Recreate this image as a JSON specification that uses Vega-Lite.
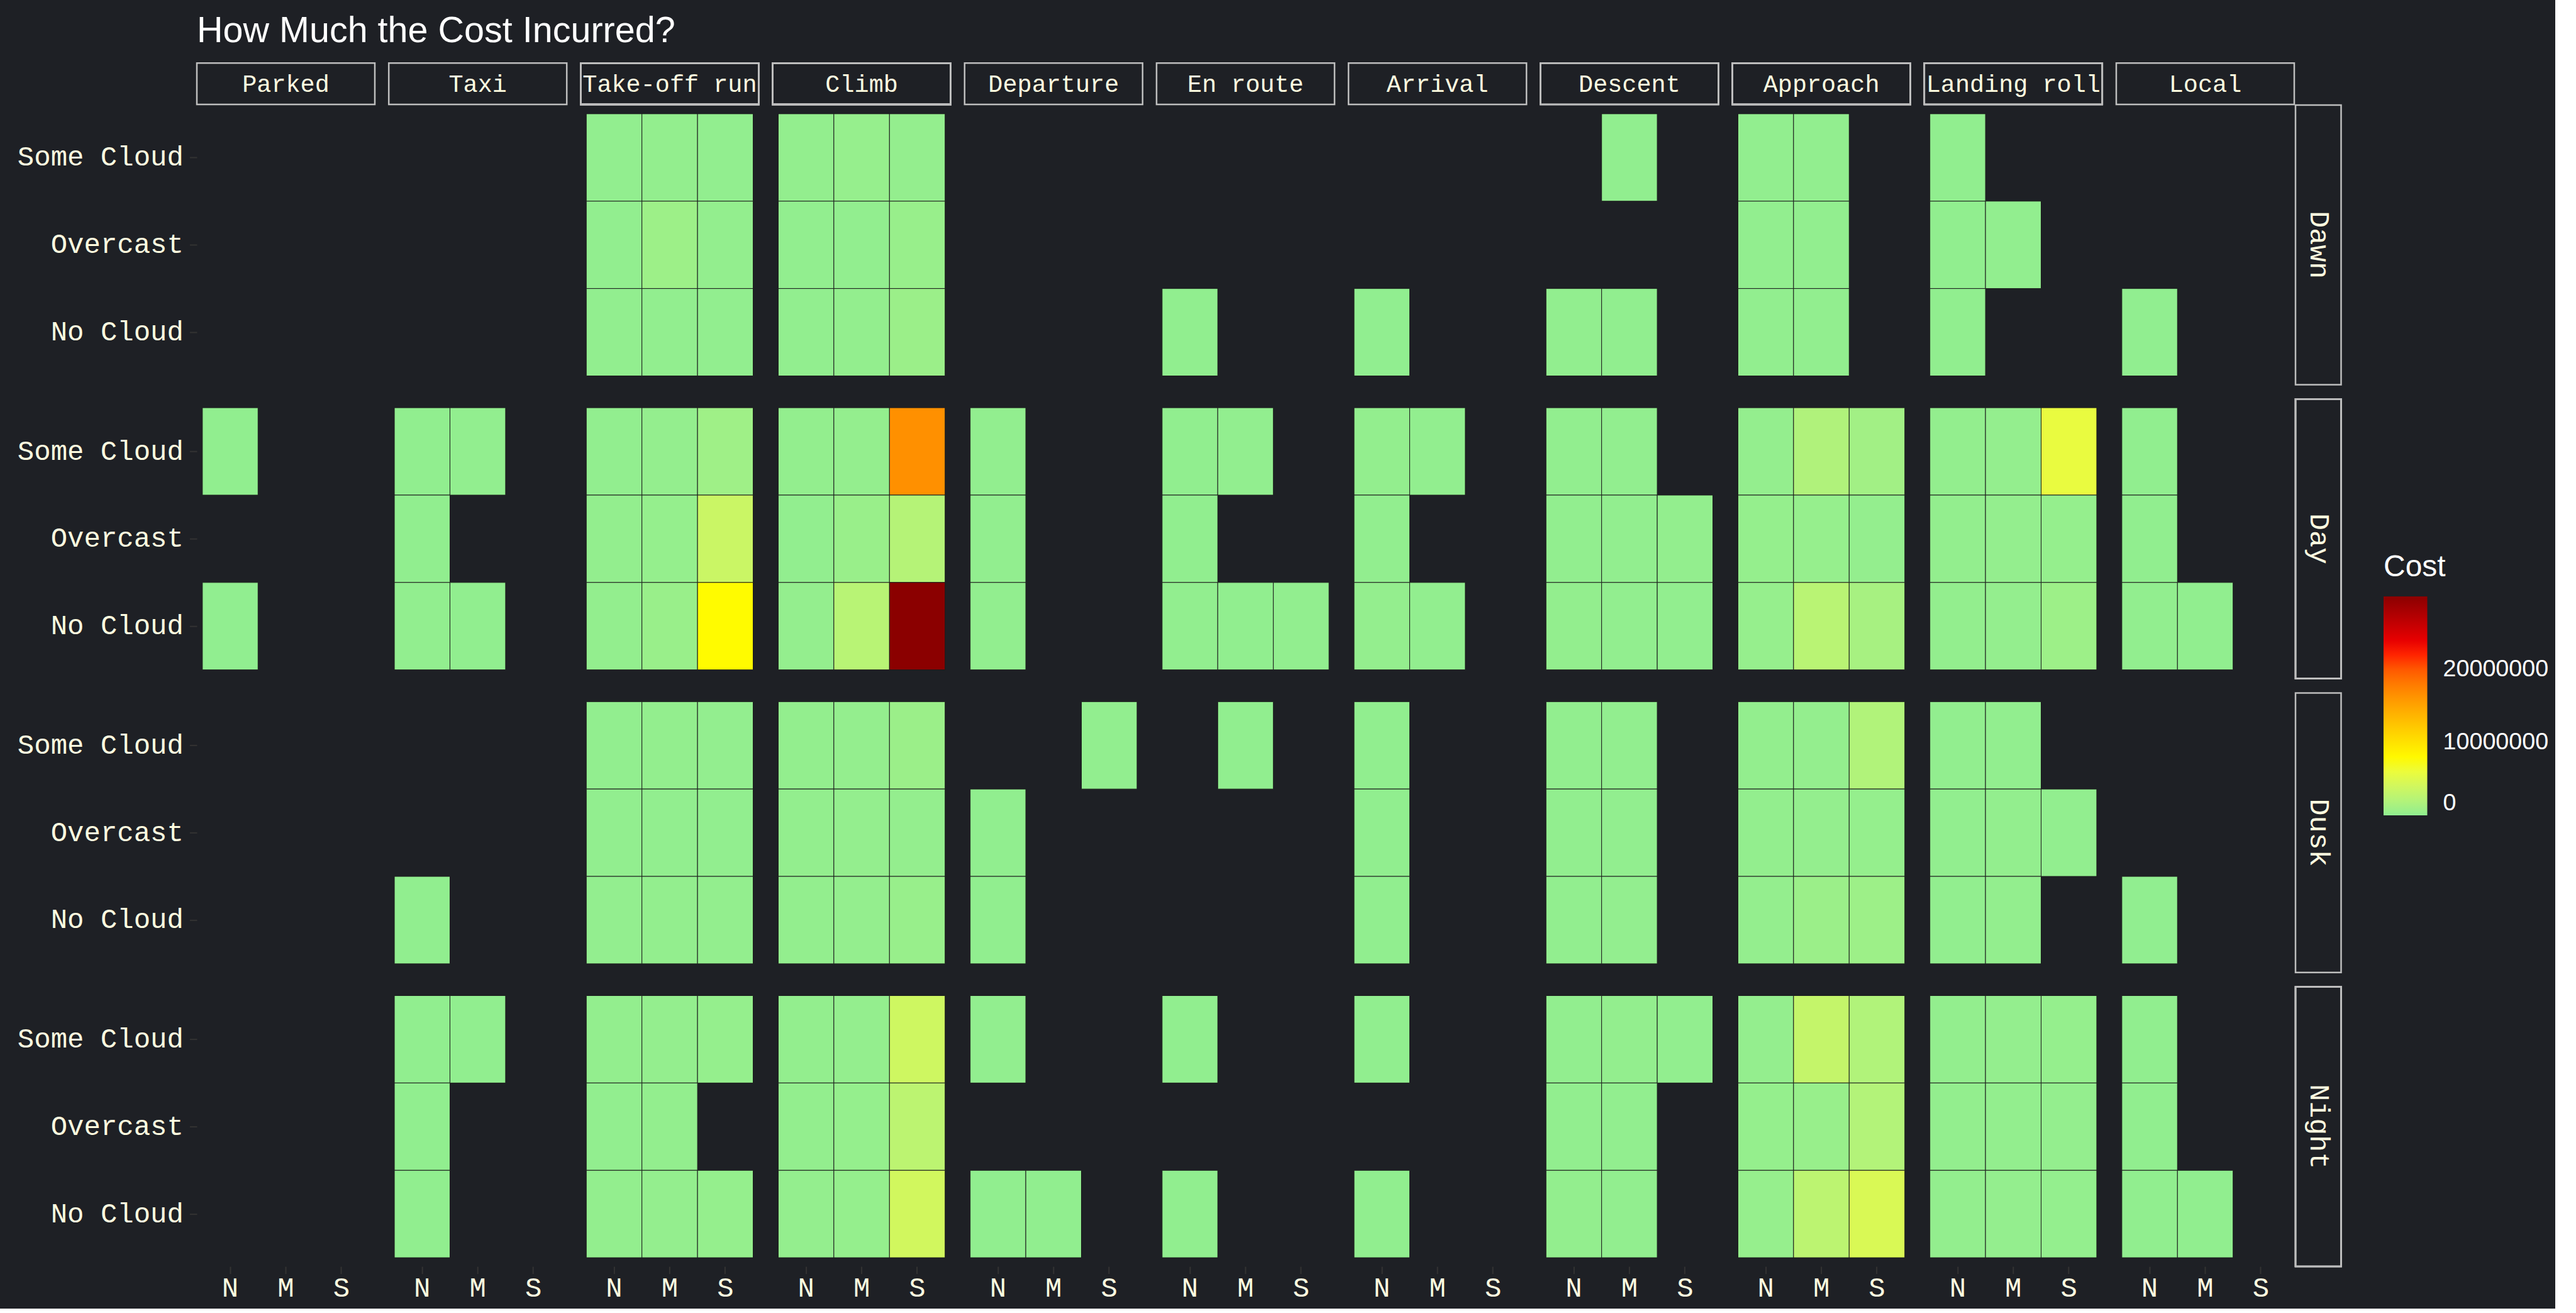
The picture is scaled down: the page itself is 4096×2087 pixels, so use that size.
{
  "$schema": "https://vega.github.io/schema/vega-lite/v6.json",
  "background": "#1e2025",
  "padding": {"left": 27, "top": 20, "right": 10, "bottom": 10},
  "title": {"text": "How Much the Cost Incurred?", "anchor": "start", "frame": "group", "font": "Liberation Sans", "fontSize": 57.5, "fontWeight": "normal", "color": "#ffffff", "offset": 20},
  "data": {"values": [
    {"Time":"Dawn","Phase":"Parked","Cloud":"Some Cloud","Damage":"N","Cost":null},
    {"Time":"Dawn","Phase":"Taxi","Cloud":"Some Cloud","Damage":"N","Cost":null},
    {"Time":"Dawn","Phase":"Departure","Cloud":"Some Cloud","Damage":"N","Cost":null},
    {"Time":"Dusk","Phase":"Parked","Cloud":"Some Cloud","Damage":"N","Cost":null},
    {"Time":"Night","Phase":"Parked","Cloud":"Some Cloud","Damage":"N","Cost":null},
    {"Time":"Dawn","Phase":"Take-off run","Cloud":"Some Cloud","Damage":"N","Cost":100000},
    {"Time":"Dawn","Phase":"Take-off run","Cloud":"Some Cloud","Damage":"M","Cost":150000},
    {"Time":"Dawn","Phase":"Take-off run","Cloud":"Some Cloud","Damage":"S","Cost":120000},
    {"Time":"Dawn","Phase":"Take-off run","Cloud":"Overcast","Damage":"N","Cost":80000},
    {"Time":"Dawn","Phase":"Take-off run","Cloud":"Overcast","Damage":"M","Cost":700000},
    {"Time":"Dawn","Phase":"Take-off run","Cloud":"Overcast","Damage":"S","Cost":150000},
    {"Time":"Dawn","Phase":"Take-off run","Cloud":"No Cloud","Damage":"N","Cost":120000},
    {"Time":"Dawn","Phase":"Take-off run","Cloud":"No Cloud","Damage":"M","Cost":100000},
    {"Time":"Dawn","Phase":"Take-off run","Cloud":"No Cloud","Damage":"S","Cost":90000},
    {"Time":"Dawn","Phase":"Climb","Cloud":"Some Cloud","Damage":"N","Cost":150000},
    {"Time":"Dawn","Phase":"Climb","Cloud":"Some Cloud","Damage":"M","Cost":300000},
    {"Time":"Dawn","Phase":"Climb","Cloud":"Some Cloud","Damage":"S","Cost":200000},
    {"Time":"Dawn","Phase":"Climb","Cloud":"Overcast","Damage":"N","Cost":100000},
    {"Time":"Dawn","Phase":"Climb","Cloud":"Overcast","Damage":"M","Cost":120000},
    {"Time":"Dawn","Phase":"Climb","Cloud":"Overcast","Damage":"S","Cost":400000},
    {"Time":"Dawn","Phase":"Climb","Cloud":"No Cloud","Damage":"N","Cost":100000},
    {"Time":"Dawn","Phase":"Climb","Cloud":"No Cloud","Damage":"M","Cost":150000},
    {"Time":"Dawn","Phase":"Climb","Cloud":"No Cloud","Damage":"S","Cost":600000},
    {"Time":"Dawn","Phase":"En route","Cloud":"No Cloud","Damage":"N","Cost":50000},
    {"Time":"Dawn","Phase":"Arrival","Cloud":"No Cloud","Damage":"N","Cost":40000},
    {"Time":"Dawn","Phase":"Descent","Cloud":"Some Cloud","Damage":"M","Cost":60000},
    {"Time":"Dawn","Phase":"Descent","Cloud":"No Cloud","Damage":"N","Cost":80000},
    {"Time":"Dawn","Phase":"Descent","Cloud":"No Cloud","Damage":"M","Cost":50000},
    {"Time":"Dawn","Phase":"Approach","Cloud":"Some Cloud","Damage":"N","Cost":100000},
    {"Time":"Dawn","Phase":"Approach","Cloud":"Some Cloud","Damage":"M","Cost":120000},
    {"Time":"Dawn","Phase":"Approach","Cloud":"Overcast","Damage":"N","Cost":90000},
    {"Time":"Dawn","Phase":"Approach","Cloud":"Overcast","Damage":"M","Cost":100000},
    {"Time":"Dawn","Phase":"Approach","Cloud":"No Cloud","Damage":"N","Cost":80000},
    {"Time":"Dawn","Phase":"Approach","Cloud":"No Cloud","Damage":"M","Cost":90000},
    {"Time":"Dawn","Phase":"Landing roll","Cloud":"Some Cloud","Damage":"N","Cost":70000},
    {"Time":"Dawn","Phase":"Landing roll","Cloud":"Overcast","Damage":"N","Cost":60000},
    {"Time":"Dawn","Phase":"Landing roll","Cloud":"Overcast","Damage":"M","Cost":80000},
    {"Time":"Dawn","Phase":"Landing roll","Cloud":"No Cloud","Damage":"N","Cost":50000},
    {"Time":"Dawn","Phase":"Local","Cloud":"No Cloud","Damage":"N","Cost":30000},

    {"Time":"Day","Phase":"Parked","Cloud":"Some Cloud","Damage":"N","Cost":50000},
    {"Time":"Day","Phase":"Parked","Cloud":"No Cloud","Damage":"N","Cost":40000},
    {"Time":"Day","Phase":"Taxi","Cloud":"Some Cloud","Damage":"N","Cost":60000},
    {"Time":"Day","Phase":"Taxi","Cloud":"Some Cloud","Damage":"M","Cost":80000},
    {"Time":"Day","Phase":"Taxi","Cloud":"Overcast","Damage":"N","Cost":50000},
    {"Time":"Day","Phase":"Taxi","Cloud":"No Cloud","Damage":"N","Cost":90000},
    {"Time":"Day","Phase":"Taxi","Cloud":"No Cloud","Damage":"M","Cost":70000},
    {"Time":"Day","Phase":"Take-off run","Cloud":"Some Cloud","Damage":"N","Cost":100000},
    {"Time":"Day","Phase":"Take-off run","Cloud":"Some Cloud","Damage":"M","Cost":200000},
    {"Time":"Day","Phase":"Take-off run","Cloud":"Some Cloud","Damage":"S","Cost":800000},
    {"Time":"Day","Phase":"Take-off run","Cloud":"Overcast","Damage":"N","Cost":150000},
    {"Time":"Day","Phase":"Take-off run","Cloud":"Overcast","Damage":"M","Cost":250000},
    {"Time":"Day","Phase":"Take-off run","Cloud":"Overcast","Damage":"S","Cost":3500000},
    {"Time":"Day","Phase":"Take-off run","Cloud":"No Cloud","Damage":"N","Cost":150000},
    {"Time":"Day","Phase":"Take-off run","Cloud":"No Cloud","Damage":"M","Cost":500000},
    {"Time":"Day","Phase":"Take-off run","Cloud":"No Cloud","Damage":"S","Cost":7800000},
    {"Time":"Day","Phase":"Climb","Cloud":"Some Cloud","Damage":"N","Cost":150000},
    {"Time":"Day","Phase":"Climb","Cloud":"Some Cloud","Damage":"M","Cost":200000},
    {"Time":"Day","Phase":"Climb","Cloud":"Some Cloud","Damage":"S","Cost":16500000},
    {"Time":"Day","Phase":"Climb","Cloud":"Overcast","Damage":"N","Cost":100000},
    {"Time":"Day","Phase":"Climb","Cloud":"Overcast","Damage":"M","Cost":500000},
    {"Time":"Day","Phase":"Climb","Cloud":"Overcast","Damage":"S","Cost":2100000},
    {"Time":"Day","Phase":"Climb","Cloud":"No Cloud","Damage":"N","Cost":200000},
    {"Time":"Day","Phase":"Climb","Cloud":"No Cloud","Damage":"M","Cost":2300000},
    {"Time":"Day","Phase":"Climb","Cloud":"No Cloud","Damage":"S","Cost":30000000},
    {"Time":"Day","Phase":"Departure","Cloud":"Some Cloud","Damage":"N","Cost":100000},
    {"Time":"Day","Phase":"Departure","Cloud":"Overcast","Damage":"N","Cost":80000},
    {"Time":"Day","Phase":"Departure","Cloud":"No Cloud","Damage":"N","Cost":120000},
    {"Time":"Day","Phase":"En route","Cloud":"Some Cloud","Damage":"N","Cost":70000},
    {"Time":"Day","Phase":"En route","Cloud":"Some Cloud","Damage":"M","Cost":90000},
    {"Time":"Day","Phase":"En route","Cloud":"Overcast","Damage":"N","Cost":60000},
    {"Time":"Day","Phase":"En route","Cloud":"No Cloud","Damage":"N","Cost":80000},
    {"Time":"Day","Phase":"En route","Cloud":"No Cloud","Damage":"M","Cost":50000},
    {"Time":"Day","Phase":"En route","Cloud":"No Cloud","Damage":"S","Cost":100000},
    {"Time":"Day","Phase":"Arrival","Cloud":"Some Cloud","Damage":"N","Cost":150000},
    {"Time":"Day","Phase":"Arrival","Cloud":"Some Cloud","Damage":"M","Cost":100000},
    {"Time":"Day","Phase":"Arrival","Cloud":"Overcast","Damage":"N","Cost":120000},
    {"Time":"Day","Phase":"Arrival","Cloud":"No Cloud","Damage":"N","Cost":200000},
    {"Time":"Day","Phase":"Arrival","Cloud":"No Cloud","Damage":"M","Cost":100000},
    {"Time":"Day","Phase":"Descent","Cloud":"Some Cloud","Damage":"N","Cost":100000},
    {"Time":"Day","Phase":"Descent","Cloud":"Some Cloud","Damage":"M","Cost":120000},
    {"Time":"Day","Phase":"Descent","Cloud":"Overcast","Damage":"N","Cost":100000},
    {"Time":"Day","Phase":"Descent","Cloud":"Overcast","Damage":"M","Cost":80000},
    {"Time":"Day","Phase":"Descent","Cloud":"Overcast","Damage":"S","Cost":150000},
    {"Time":"Day","Phase":"Descent","Cloud":"No Cloud","Damage":"N","Cost":150000},
    {"Time":"Day","Phase":"Descent","Cloud":"No Cloud","Damage":"M","Cost":120000},
    {"Time":"Day","Phase":"Descent","Cloud":"No Cloud","Damage":"S","Cost":100000},
    {"Time":"Day","Phase":"Approach","Cloud":"Some Cloud","Damage":"N","Cost":200000},
    {"Time":"Day","Phase":"Approach","Cloud":"Some Cloud","Damage":"M","Cost":1800000},
    {"Time":"Day","Phase":"Approach","Cloud":"Some Cloud","Damage":"S","Cost":1000000},
    {"Time":"Day","Phase":"Approach","Cloud":"Overcast","Damage":"N","Cost":250000},
    {"Time":"Day","Phase":"Approach","Cloud":"Overcast","Damage":"M","Cost":300000},
    {"Time":"Day","Phase":"Approach","Cloud":"Overcast","Damage":"S","Cost":200000},
    {"Time":"Day","Phase":"Approach","Cloud":"No Cloud","Damage":"N","Cost":300000},
    {"Time":"Day","Phase":"Approach","Cloud":"No Cloud","Damage":"M","Cost":2400000},
    {"Time":"Day","Phase":"Approach","Cloud":"No Cloud","Damage":"S","Cost":1300000},
    {"Time":"Day","Phase":"Landing roll","Cloud":"Some Cloud","Damage":"N","Cost":150000},
    {"Time":"Day","Phase":"Landing roll","Cloud":"Some Cloud","Damage":"M","Cost":200000},
    {"Time":"Day","Phase":"Landing roll","Cloud":"Some Cloud","Damage":"S","Cost":5800000},
    {"Time":"Day","Phase":"Landing roll","Cloud":"Overcast","Damage":"N","Cost":150000},
    {"Time":"Day","Phase":"Landing roll","Cloud":"Overcast","Damage":"M","Cost":200000},
    {"Time":"Day","Phase":"Landing roll","Cloud":"Overcast","Damage":"S","Cost":250000},
    {"Time":"Day","Phase":"Landing roll","Cloud":"No Cloud","Damage":"N","Cost":150000},
    {"Time":"Day","Phase":"Landing roll","Cloud":"No Cloud","Damage":"M","Cost":200000},
    {"Time":"Day","Phase":"Landing roll","Cloud":"No Cloud","Damage":"S","Cost":700000},
    {"Time":"Day","Phase":"Local","Cloud":"Some Cloud","Damage":"N","Cost":60000},
    {"Time":"Day","Phase":"Local","Cloud":"Overcast","Damage":"N","Cost":50000},
    {"Time":"Day","Phase":"Local","Cloud":"No Cloud","Damage":"N","Cost":80000},
    {"Time":"Day","Phase":"Local","Cloud":"No Cloud","Damage":"M","Cost":60000},

    {"Time":"Dusk","Phase":"Taxi","Cloud":"No Cloud","Damage":"N","Cost":50000},
    {"Time":"Dusk","Phase":"Take-off run","Cloud":"Some Cloud","Damage":"N","Cost":120000},
    {"Time":"Dusk","Phase":"Take-off run","Cloud":"Some Cloud","Damage":"M","Cost":150000},
    {"Time":"Dusk","Phase":"Take-off run","Cloud":"Some Cloud","Damage":"S","Cost":130000},
    {"Time":"Dusk","Phase":"Take-off run","Cloud":"Overcast","Damage":"N","Cost":100000},
    {"Time":"Dusk","Phase":"Take-off run","Cloud":"Overcast","Damage":"M","Cost":120000},
    {"Time":"Dusk","Phase":"Take-off run","Cloud":"Overcast","Damage":"S","Cost":110000},
    {"Time":"Dusk","Phase":"Take-off run","Cloud":"No Cloud","Damage":"N","Cost":130000},
    {"Time":"Dusk","Phase":"Take-off run","Cloud":"No Cloud","Damage":"M","Cost":150000},
    {"Time":"Dusk","Phase":"Take-off run","Cloud":"No Cloud","Damage":"S","Cost":140000},
    {"Time":"Dusk","Phase":"Climb","Cloud":"Some Cloud","Damage":"N","Cost":150000},
    {"Time":"Dusk","Phase":"Climb","Cloud":"Some Cloud","Damage":"M","Cost":200000},
    {"Time":"Dusk","Phase":"Climb","Cloud":"Some Cloud","Damage":"S","Cost":600000},
    {"Time":"Dusk","Phase":"Climb","Cloud":"Overcast","Damage":"N","Cost":150000},
    {"Time":"Dusk","Phase":"Climb","Cloud":"Overcast","Damage":"M","Cost":200000},
    {"Time":"Dusk","Phase":"Climb","Cloud":"Overcast","Damage":"S","Cost":200000},
    {"Time":"Dusk","Phase":"Climb","Cloud":"No Cloud","Damage":"N","Cost":150000},
    {"Time":"Dusk","Phase":"Climb","Cloud":"No Cloud","Damage":"M","Cost":200000},
    {"Time":"Dusk","Phase":"Climb","Cloud":"No Cloud","Damage":"S","Cost":400000},
    {"Time":"Dusk","Phase":"Departure","Cloud":"Some Cloud","Damage":"S","Cost":80000},
    {"Time":"Dusk","Phase":"Departure","Cloud":"Overcast","Damage":"N","Cost":60000},
    {"Time":"Dusk","Phase":"Departure","Cloud":"No Cloud","Damage":"N","Cost":70000},
    {"Time":"Dusk","Phase":"En route","Cloud":"Some Cloud","Damage":"M","Cost":50000},
    {"Time":"Dusk","Phase":"Arrival","Cloud":"Some Cloud","Damage":"N","Cost":60000},
    {"Time":"Dusk","Phase":"Arrival","Cloud":"Overcast","Damage":"N","Cost":50000},
    {"Time":"Dusk","Phase":"Arrival","Cloud":"No Cloud","Damage":"N","Cost":70000},
    {"Time":"Dusk","Phase":"Descent","Cloud":"Some Cloud","Damage":"N","Cost":100000},
    {"Time":"Dusk","Phase":"Descent","Cloud":"Some Cloud","Damage":"M","Cost":120000},
    {"Time":"Dusk","Phase":"Descent","Cloud":"Overcast","Damage":"N","Cost":90000},
    {"Time":"Dusk","Phase":"Descent","Cloud":"Overcast","Damage":"M","Cost":110000},
    {"Time":"Dusk","Phase":"Descent","Cloud":"No Cloud","Damage":"N","Cost":100000},
    {"Time":"Dusk","Phase":"Descent","Cloud":"No Cloud","Damage":"M","Cost":130000},
    {"Time":"Dusk","Phase":"Approach","Cloud":"Some Cloud","Damage":"N","Cost":150000},
    {"Time":"Dusk","Phase":"Approach","Cloud":"Some Cloud","Damage":"M","Cost":200000},
    {"Time":"Dusk","Phase":"Approach","Cloud":"Some Cloud","Damage":"S","Cost":1900000},
    {"Time":"Dusk","Phase":"Approach","Cloud":"Overcast","Damage":"N","Cost":150000},
    {"Time":"Dusk","Phase":"Approach","Cloud":"Overcast","Damage":"M","Cost":200000},
    {"Time":"Dusk","Phase":"Approach","Cloud":"Overcast","Damage":"S","Cost":250000},
    {"Time":"Dusk","Phase":"Approach","Cloud":"No Cloud","Damage":"N","Cost":200000},
    {"Time":"Dusk","Phase":"Approach","Cloud":"No Cloud","Damage":"M","Cost":600000},
    {"Time":"Dusk","Phase":"Approach","Cloud":"No Cloud","Damage":"S","Cost":700000},
    {"Time":"Dusk","Phase":"Landing roll","Cloud":"Some Cloud","Damage":"N","Cost":100000},
    {"Time":"Dusk","Phase":"Landing roll","Cloud":"Some Cloud","Damage":"M","Cost":120000},
    {"Time":"Dusk","Phase":"Landing roll","Cloud":"Overcast","Damage":"N","Cost":100000},
    {"Time":"Dusk","Phase":"Landing roll","Cloud":"Overcast","Damage":"M","Cost":150000},
    {"Time":"Dusk","Phase":"Landing roll","Cloud":"Overcast","Damage":"S","Cost":120000},
    {"Time":"Dusk","Phase":"Landing roll","Cloud":"No Cloud","Damage":"N","Cost":100000},
    {"Time":"Dusk","Phase":"Landing roll","Cloud":"No Cloud","Damage":"M","Cost":150000},
    {"Time":"Dusk","Phase":"Local","Cloud":"No Cloud","Damage":"N","Cost":40000},

    {"Time":"Night","Phase":"Taxi","Cloud":"Some Cloud","Damage":"N","Cost":60000},
    {"Time":"Night","Phase":"Taxi","Cloud":"Some Cloud","Damage":"M","Cost":70000},
    {"Time":"Night","Phase":"Taxi","Cloud":"Overcast","Damage":"N","Cost":50000},
    {"Time":"Night","Phase":"Taxi","Cloud":"No Cloud","Damage":"N","Cost":60000},
    {"Time":"Night","Phase":"Take-off run","Cloud":"Some Cloud","Damage":"N","Cost":150000},
    {"Time":"Night","Phase":"Take-off run","Cloud":"Some Cloud","Damage":"M","Cost":200000},
    {"Time":"Night","Phase":"Take-off run","Cloud":"Some Cloud","Damage":"S","Cost":250000},
    {"Time":"Night","Phase":"Take-off run","Cloud":"Overcast","Damage":"N","Cost":120000},
    {"Time":"Night","Phase":"Take-off run","Cloud":"Overcast","Damage":"M","Cost":150000},
    {"Time":"Night","Phase":"Take-off run","Cloud":"No Cloud","Damage":"N","Cost":150000},
    {"Time":"Night","Phase":"Take-off run","Cloud":"No Cloud","Damage":"M","Cost":200000},
    {"Time":"Night","Phase":"Take-off run","Cloud":"No Cloud","Damage":"S","Cost":250000},
    {"Time":"Night","Phase":"Climb","Cloud":"Some Cloud","Damage":"N","Cost":150000},
    {"Time":"Night","Phase":"Climb","Cloud":"Some Cloud","Damage":"M","Cost":200000},
    {"Time":"Night","Phase":"Climb","Cloud":"Some Cloud","Damage":"S","Cost":3800000},
    {"Time":"Night","Phase":"Climb","Cloud":"Overcast","Damage":"N","Cost":150000},
    {"Time":"Night","Phase":"Climb","Cloud":"Overcast","Damage":"M","Cost":250000},
    {"Time":"Night","Phase":"Climb","Cloud":"Overcast","Damage":"S","Cost":2600000},
    {"Time":"Night","Phase":"Climb","Cloud":"No Cloud","Damage":"N","Cost":200000},
    {"Time":"Night","Phase":"Climb","Cloud":"No Cloud","Damage":"M","Cost":250000},
    {"Time":"Night","Phase":"Climb","Cloud":"No Cloud","Damage":"S","Cost":4000000},
    {"Time":"Night","Phase":"Departure","Cloud":"Some Cloud","Damage":"N","Cost":80000},
    {"Time":"Night","Phase":"Departure","Cloud":"No Cloud","Damage":"N","Cost":60000},
    {"Time":"Night","Phase":"Departure","Cloud":"No Cloud","Damage":"M","Cost":70000},
    {"Time":"Night","Phase":"En route","Cloud":"Some Cloud","Damage":"N","Cost":50000},
    {"Time":"Night","Phase":"En route","Cloud":"No Cloud","Damage":"N","Cost":60000},
    {"Time":"Night","Phase":"Arrival","Cloud":"Some Cloud","Damage":"N","Cost":50000},
    {"Time":"Night","Phase":"Arrival","Cloud":"No Cloud","Damage":"N","Cost":60000},
    {"Time":"Night","Phase":"Descent","Cloud":"Some Cloud","Damage":"N","Cost":100000},
    {"Time":"Night","Phase":"Descent","Cloud":"Some Cloud","Damage":"M","Cost":150000},
    {"Time":"Night","Phase":"Descent","Cloud":"Some Cloud","Damage":"S","Cost":120000},
    {"Time":"Night","Phase":"Descent","Cloud":"Overcast","Damage":"N","Cost":100000},
    {"Time":"Night","Phase":"Descent","Cloud":"Overcast","Damage":"M","Cost":120000},
    {"Time":"Night","Phase":"Descent","Cloud":"No Cloud","Damage":"N","Cost":150000},
    {"Time":"Night","Phase":"Descent","Cloud":"No Cloud","Damage":"M","Cost":100000},
    {"Time":"Night","Phase":"Approach","Cloud":"Some Cloud","Damage":"N","Cost":200000},
    {"Time":"Night","Phase":"Approach","Cloud":"Some Cloud","Damage":"M","Cost":3100000},
    {"Time":"Night","Phase":"Approach","Cloud":"Some Cloud","Damage":"S","Cost":1900000},
    {"Time":"Night","Phase":"Approach","Cloud":"Overcast","Damage":"N","Cost":250000},
    {"Time":"Night","Phase":"Approach","Cloud":"Overcast","Damage":"M","Cost":400000},
    {"Time":"Night","Phase":"Approach","Cloud":"Overcast","Damage":"S","Cost":2000000},
    {"Time":"Night","Phase":"Approach","Cloud":"No Cloud","Damage":"N","Cost":300000},
    {"Time":"Night","Phase":"Approach","Cloud":"No Cloud","Damage":"M","Cost":2600000},
    {"Time":"Night","Phase":"Approach","Cloud":"No Cloud","Damage":"S","Cost":4600000},
    {"Time":"Night","Phase":"Landing roll","Cloud":"Some Cloud","Damage":"N","Cost":150000},
    {"Time":"Night","Phase":"Landing roll","Cloud":"Some Cloud","Damage":"M","Cost":200000},
    {"Time":"Night","Phase":"Landing roll","Cloud":"Some Cloud","Damage":"S","Cost":250000},
    {"Time":"Night","Phase":"Landing roll","Cloud":"Overcast","Damage":"N","Cost":150000},
    {"Time":"Night","Phase":"Landing roll","Cloud":"Overcast","Damage":"M","Cost":180000},
    {"Time":"Night","Phase":"Landing roll","Cloud":"Overcast","Damage":"S","Cost":200000},
    {"Time":"Night","Phase":"Landing roll","Cloud":"No Cloud","Damage":"N","Cost":150000},
    {"Time":"Night","Phase":"Landing roll","Cloud":"No Cloud","Damage":"M","Cost":200000},
    {"Time":"Night","Phase":"Landing roll","Cloud":"No Cloud","Damage":"S","Cost":220000},
    {"Time":"Night","Phase":"Local","Cloud":"Some Cloud","Damage":"N","Cost":60000},
    {"Time":"Night","Phase":"Local","Cloud":"Overcast","Damage":"N","Cost":50000},
    {"Time":"Night","Phase":"Local","Cloud":"No Cloud","Damage":"N","Cost":70000},
    {"Time":"Night","Phase":"Local","Cloud":"No Cloud","Damage":"M","Cost":50000}
  ]},
  "facet": {
    "row": {"field": "Time", "type": "nominal", "sort": ["Dawn", "Day", "Dusk", "Night"],
      "header": {"title": null, "labelOrient": "right", "labelAngle": 90, "labelAlign": "center", "labelBaseline": "middle", "labelFont": "Liberation Mono", "labelFontSize": 45, "labelColor": "#fffde0", "labelPadding": -5}},
    "column": {"field": "Phase", "type": "nominal", "sort": ["Parked", "Taxi", "Take-off run", "Climb", "Departure", "En route", "Arrival", "Descent", "Approach", "Landing roll", "Local"],
      "header": {"title": null, "labelOrient": "top", "labelBaseline": "middle", "labelFont": "Liberation Mono", "labelFontSize": 38.5, "labelColor": "#fffde0", "labelPadding": -5}}
  },
  "spacing": {"row": 22.2, "column": 22.2},
  "bounds": "flush",
  "spec": {
    "width": 283,
    "height": 444.4,
    "layer": [
      {
        "mark": {"type": "rect", "stroke": "#1c1c1c", "strokeWidth": 1},
        "encoding": {
          "x": {"field": "Damage", "type": "nominal", "sort": ["N", "M", "S"], "scale": {"domain": ["N", "M", "S"], "paddingInner": 0, "paddingOuter": 0.1}, "axis": {"title": null, "labelAngle": 0, "labelPadding": 1}},
          "y": {"field": "Cloud", "type": "nominal", "sort": ["Some Cloud", "Overcast", "No Cloud"], "scale": {"domain": ["Some Cloud", "Overcast", "No Cloud"], "paddingInner": 0, "paddingOuter": 0.1}, "axis": {"title": null, "labelPadding": 10, "labelLimit": 0}},
          "color": {"field": "Cost", "type": "quantitative",
            "scale": {"domain": [0, 7500000, 15000000, 22500000, 30000000], "range": ["#90ee90", "#ffff00", "#ffa500", "#ff0000", "#8b0000"], "interpolate": "lab"},
            "legend": {"title": "Cost", "orient": "none", "legendX": 3477, "legendY": 711, "direction": "vertical", "gradientLength": 348, "gradientThickness": 69.5, "gradientStrokeWidth": 0, "values": [0, 10000000, 20000000], "format": "d", "titleFont": "Liberation Sans", "titleFontSize": 48, "titleFontWeight": "normal", "titleColor": "#ffffff", "titlePadding": 22, "labelFont": "Liberation Sans", "labelFontSize": 37.7, "labelColor": "#ffffff", "labelOffset": 25}},
          "fillOpacity": {"condition": {"test": "isValid(datum.Cost)", "value": 1}, "value": 0},
          "strokeOpacity": {"condition": {"test": "isValid(datum.Cost)", "value": 1}, "value": 0}
        }
      },
      {
        "mark": {"type": "rect", "filled": false, "stroke": "#bebebe", "strokeWidth": 2.5},
        "encoding": {"x": {"value": 0}, "x2": {"value": 283}, "y": {"value": -66.7}, "y2": {"value": -1},
          "strokeOpacity": {"condition": {"test": "datum.Time === 'Dawn'", "value": 1}, "value": 0}}
      },
      {
        "mark": {"type": "rect", "filled": false, "stroke": "#bebebe", "strokeWidth": 2.5},
        "encoding": {"x": {"value": 285}, "x2": {"value": 357.5}, "y": {"value": 0}, "y2": {"value": 444.4},
          "strokeOpacity": {"condition": {"test": "datum.Phase === 'Local'", "value": 1}, "value": 0}}
      }
    ]
  },
  "config": {
    "font": "Liberation Sans",
    "view": {"stroke": null},
    "axis": {"domain": false, "grid": false, "ticks": true, "tickColor": "#333333", "tickSize": 11.6, "tickWidth": 2, "labelColor": "#fffde0", "labelFont": "Liberation Mono", "labelFontSize": 44}
  }
}
